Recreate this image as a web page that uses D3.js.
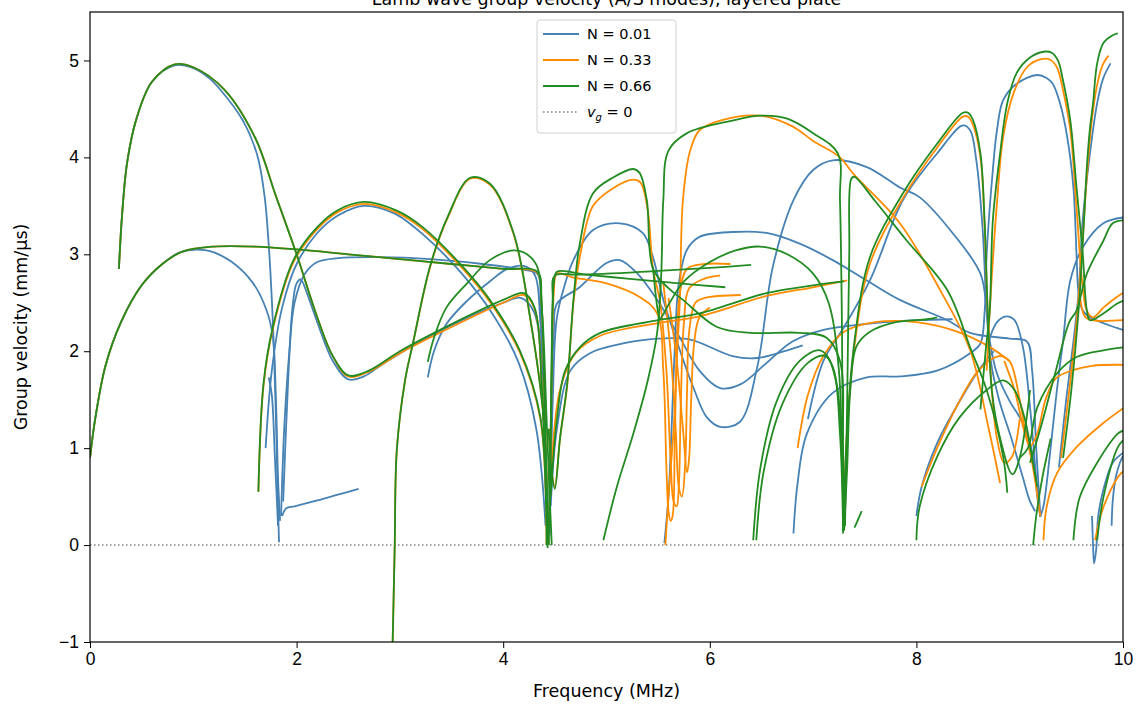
<!DOCTYPE html>
<html>
<head>
<script src="https://d3js.org/d3.v7.min.js"></script>
<style>
  body { margin: 0; background: #fff; }
  svg { font-family: "DejaVu Sans", sans-serif; }
  .tick text { font-size: 17.5px; fill: #000; }
  .tick line { stroke: #000; }
</style>
</head>
<body>
<svg id="chart" width="1139" height="708"></svg>
<script>
// tick values
var freqTicks = [0, 2, 4, 6, 8, 10];
var velTicks = [-1, 0, 1, 2, 3, 4, 5];
var seriesLabels = ["N = 0.01", "N = 0.33", "N = 0.66"];
var seriesColors = ["#4682b4", "#ff8c00", "#228b22"];

// dispersion branches, [frequency MHz, group velocity mm/us]
var blueModes = [
  [[0.28,2.85],[0.31,3.4],[0.36,3.95],[0.45,4.4],[0.6,4.78],[0.82,4.95],[1.0,4.92],[1.15,4.82],[1.26,4.7],[1.48,4.38],[1.62,4.02],[1.69,3.6],[1.73,3.1],[1.77,2.3],[1.8,1.3],[1.82,0.4],[1.83,0.03]],
  [[0,0.9],[0.05,1.3],[0.15,1.85],[0.3,2.3],[0.5,2.68],[0.7,2.9],[0.87,3.02],[1.13,3.04],[1.36,2.93],[1.58,2.7],[1.71,2.42],[1.77,2.15],[1.8,1.5],[1.82,0.7],[1.84,0.25]],
  [[1.73,1.73],[1.76,1.55],[1.79,0.9],[1.82,0.2]],
  [[1.85,0.3],[1.88,1.2],[1.93,2.0],[1.98,2.5],[2.08,2.8],[2.2,2.92],[2.4,2.96],[2.8,2.97],[3.3,2.95],[3.8,2.9],[4.2,2.84],[4.33,2.8],[4.36,2.4],[4.4,1.0],[4.43,0.05]],
  [[1.87,0.45],[1.91,1.5],[1.96,2.45],[2.0,2.7],[2.04,2.74],[2.1,2.6],[2.2,2.3],[2.35,1.9],[2.5,1.71],[2.65,1.74],[2.85,1.88],[3.2,2.1],[3.6,2.32],[4.0,2.5],[4.17,2.55],[4.3,2.4],[4.38,1.5],[4.42,0.2]],
  [[1.86,0.3],[1.9,0.38],[1.98,0.4],[2.2,0.46],[2.4,0.52],[2.6,0.58]],
  [[1.7,1.0],[1.76,1.8],[1.86,2.45],[2.0,2.9],[2.2,3.22],[2.4,3.4],[2.65,3.5],[2.95,3.42],[3.25,3.18],[3.6,2.8],[3.9,2.38],[4.15,1.88],[4.32,1.2],[4.41,0.2]],
  [[3.27,1.73],[3.33,2.0],[3.45,2.28],[3.65,2.52],[3.87,2.72],[4.04,2.85],[4.2,2.88],[4.3,2.8],[4.36,2.3],[4.4,1.0],[4.43,0.1]],
  [[4.44,0.05],[4.46,1.2],[4.49,2.2],[4.52,2.49],[4.74,2.66],[5.0,2.91],[5.13,2.94],[5.3,2.8],[5.49,2.53],[5.71,2.14],[5.9,1.8],[6.1,1.62],[6.3,1.66],[6.55,1.88],[6.8,2.1],[7.1,2.22],[7.5,2.28],[8.0,2.32],[8.35,2.33]],
  [[4.45,0.1],[4.48,1.5],[4.52,2.35],[4.6,2.7],[4.68,2.94],[4.87,3.25],[5.13,3.32],[5.35,3.22],[5.45,2.97],[5.55,2.53],[5.71,2.01],[5.85,1.6],[5.97,1.32],[6.1,1.22],[6.29,1.27],[6.46,1.84],[6.61,2.87],[6.81,3.56],[7.0,3.87],[7.19,3.97],[7.52,3.9],[7.84,3.69],[8.03,3.59],[8.35,3.22],[8.62,2.8],[8.68,2.42],[8.71,2.11],[8.78,1.77],[8.9,1.49],[9.03,1.26],[9.13,0.91],[9.17,0.5],[9.2,0.29]],
  [[5.56,0.02],[5.6,0.5],[5.63,1.2],[5.66,2.0],[5.7,2.7],[5.78,3.05],[5.9,3.18],[6.22,3.23],[6.55,3.22],[6.87,3.11],[7.19,2.94],[7.52,2.73],[7.84,2.53],[8.3,2.32],[8.52,2.19],[8.9,2.13],[9.07,2.1],[9.12,1.8],[9.16,1.0],[9.2,0.3]],
  [[6.81,0.12],[6.85,0.64],[6.94,1.15],[7.19,1.57],[7.52,1.73],[7.84,1.74],[8.2,1.8],[8.52,1.98],[8.62,2.08],[8.66,2.4],[8.68,3.0],[8.74,3.87],[8.78,4.28],[8.84,4.59],[8.97,4.76],[9.17,4.85],[9.26,4.82],[9.32,4.76],[9.39,4.56],[9.46,4.21],[9.52,3.69],[9.55,3.0],[9.57,2.6],[9.61,2.42],[9.68,2.35],[9.94,2.24],[10,2.22]],
  [[6.95,1.3],[7.1,1.9],[7.3,2.25],[7.55,2.73],[7.87,3.56],[8.2,4.04],[8.45,4.33],[8.52,4.28],[8.58,3.97],[8.64,3.28],[8.68,2.42],[8.72,1.9],[8.8,1.5],[8.92,1.1],[9.03,0.7],[9.1,0.45],[9.15,0.35]],
  [[8.7,2.1],[8.78,2.3],[8.87,2.36],[8.95,2.32],[9.03,2.05],[9.1,1.42],[9.17,0.57],[9.2,0.29]],
  [[9.2,0.3],[9.23,0.4],[9.29,0.91],[9.36,1.6],[9.42,2.11],[9.49,2.73],[9.61,3.07],[9.81,3.32],[10,3.38]],
  [[9.38,0.8],[9.45,1.5],[9.52,2.1],[9.57,2.6],[9.61,3.35],[9.68,4.04],[9.75,4.56],[9.81,4.82],[9.88,4.97]],
  [[9.7,0.3],[9.71,0.0],[9.72,-0.19],[9.74,-0.05],[9.76,0.3],[9.81,0.57],[9.9,0.85],[10,0.95]],
  [[9.89,0.2],[9.9,0.45],[9.93,0.7],[9.97,0.85],[10,0.92]],
  [[8.0,0.3],[8.05,0.6],[8.2,1.05],[8.4,1.45],[8.6,1.8],[8.75,2.0]],
  [[4.46,0.4],[4.52,1.2],[4.65,1.8],[4.84,1.98],[5.16,2.08],[5.49,2.13],[5.81,2.12],[6.22,1.95],[6.46,1.93],[6.75,2.01],[6.9,2.06]]
];

var orangeModes = [
  [[0.28,2.85],[0.31,3.4],[0.36,3.95],[0.45,4.4],[0.6,4.78],[0.82,4.96],[1.0,4.93],[1.3,4.7],[1.6,4.2],[1.8,3.6],[2.0,3.0],[2.2,2.35],[2.35,1.95],[2.5,1.74],[2.7,1.79],[3.0,1.98],[3.5,2.25],[4.0,2.5],[4.2,2.58],[4.3,2.45],[4.38,1.5],[4.43,0.1]],
  [[0,0.9],[0.05,1.3],[0.15,1.85],[0.3,2.3],[0.5,2.68],[0.7,2.9],[0.9,3.03],[1.2,3.08],[1.6,3.08],[2.0,3.05],[2.5,3.0],[3.0,2.95],[3.5,2.9],[4.0,2.85],[4.33,2.81],[4.37,2.5],[4.4,1.5],[4.43,0.3],[4.44,0.0]],
  [[1.63,0.55],[1.68,1.65],[1.77,2.23],[1.97,2.92],[2.2,3.26],[2.39,3.43],[2.65,3.52],[2.97,3.43],[3.22,3.26],[3.61,2.85],[3.87,2.51],[4.16,1.99],[4.36,1.3],[4.42,0.0]],
  [[2.93,-1],[2.94,-0.5],[2.95,0],[2.97,0.98],[3.05,1.7],[3.13,2.1],[3.29,2.86],[3.46,3.37],[3.68,3.78],[3.87,3.72],[4.1,3.21],[4.26,2.35],[4.39,1.32],[4.43,0.0]],
  [[4.45,0.3],[4.47,1.8],[4.49,2.6],[4.52,2.8],[4.68,2.76],[5.0,2.7],[5.32,2.56],[5.49,2.39],[5.55,1.8],[5.58,0.8],[5.6,0.35],[5.62,0.25],[5.64,0.3],[5.66,1.0],[5.68,2.0],[5.71,2.6],[5.78,2.85],[5.95,2.9],[6.2,2.9]],
  [[4.44,1.2],[4.47,0.75],[4.5,0.6],[4.55,1.1],[4.62,1.65],[4.68,2.5],[4.75,3.02],[4.87,3.5],[5.06,3.68],[5.26,3.77],[5.33,3.74],[5.4,3.45],[5.45,2.85],[5.52,2.5],[5.58,1.8],[5.62,0.9],[5.65,0.45],[5.68,0.4],[5.7,0.6],[5.72,1.5],[5.75,2.3],[5.8,2.65],[5.95,2.75],[6.1,2.78]],
  [[5.55,2.7],[5.62,2.0],[5.67,1.2],[5.7,0.6],[5.73,0.5],[5.76,0.8],[5.78,1.6],[5.8,2.2],[5.86,2.5],[5.95,2.55],[6.3,2.58]],
  [[5.6,2.55],[5.68,1.9],[5.74,1.2],[5.78,0.75],[5.8,0.9],[5.82,1.5],[5.85,2.1],[5.9,2.35],[6.0,2.45]],
  [[5.57,0.0],[5.6,0.5],[5.65,1.2],[5.68,1.9],[5.71,2.52],[5.74,3.56],[5.81,4.07],[5.9,4.28],[6.1,4.38],[6.49,4.43],[6.8,4.32],[7.0,4.17],[7.26,4.0],[7.39,3.83],[7.84,3.32],[8.23,2.63],[8.52,2.01],[8.7,1.2],[8.81,0.64]],
  [[4.47,0.8],[4.55,1.6],[4.7,1.98],[4.94,2.16],[5.5,2.29],[5.9,2.36],[6.55,2.57],[7.0,2.66],[7.33,2.73]],
  [[6.85,1.0],[6.95,1.55],[7.1,1.95],[7.3,2.2],[7.6,2.3],[8.0,2.3],[8.4,2.2],[8.7,2.05],[8.9,1.9]],
  [[7.3,0.3],[7.33,1.2],[7.4,2.05],[7.55,2.9],[7.87,3.58],[8.2,4.1],[8.45,4.42],[8.5,4.42],[8.55,4.33],[8.62,4.0],[8.66,3.3],[8.69,2.4],[8.73,1.6],[8.78,1.1],[8.85,0.85],[8.92,0.9],[9.0,1.3]],
  [[8.68,1.8],[8.72,2.6],[8.78,3.53],[8.84,4.21],[8.94,4.66],[9.07,4.93],[9.2,5.01],[9.29,5.01],[9.36,4.93],[9.42,4.69],[9.49,4.28],[9.55,3.48],[9.61,2.66],[9.65,2.42],[9.71,2.35],[9.81,2.45],[9.94,2.56],[10,2.6]],
  [[9.4,0.9],[9.48,1.6],[9.55,2.3],[9.6,3.0],[9.65,3.8],[9.7,4.4],[9.76,4.8],[9.81,4.97],[9.86,5.05]],
  [[8.85,1.9],[8.95,1.6],[9.05,1.15],[9.1,1.02],[9.17,1.15],[9.25,1.5],[9.35,1.72],[9.5,1.8],[9.7,1.85],[10,1.86]],
  [[9.23,0.05],[9.26,0.39],[9.36,0.74],[9.55,1.01],[9.81,1.26],[10,1.41]],
  [[9.73,0.05],[9.76,0.2],[9.81,0.39],[9.95,0.7],[10,0.76]],
  [[9.58,2.6],[9.63,2.36],[9.7,2.32],[10,2.32]],
  [[8.05,0.6],[8.2,1.0],[8.4,1.45],[8.6,1.8],[8.8,1.95],[8.9,1.9],[9.0,1.5],[9.05,1.2],[9.12,0.85],[9.2,0.3]]
];

var greenModes = [
  [[0.28,2.85],[0.31,3.4],[0.36,3.95],[0.45,4.4],[0.6,4.78],[0.82,4.96],[1.0,4.93],[1.3,4.7],[1.6,4.2],[1.8,3.6],[2.0,3.0],[2.2,2.35],[2.35,1.95],[2.5,1.75],[2.7,1.8],[3.0,2.0],[3.5,2.28],[4.0,2.53],[4.2,2.6],[4.3,2.46],[4.38,1.5],[4.43,0.1]],
  [[0,0.9],[0.05,1.3],[0.15,1.85],[0.3,2.3],[0.5,2.68],[0.7,2.9],[0.9,3.03],[1.2,3.08],[1.6,3.08],[2.0,3.05],[2.5,3.0],[3.0,2.95],[3.5,2.9],[4.0,2.85],[4.33,2.82],[4.37,2.5],[4.4,1.5],[4.43,0.3],[4.44,0.0]],
  [[1.63,0.55],[1.68,1.67],[1.77,2.25],[1.97,2.94],[2.2,3.28],[2.39,3.45],[2.65,3.54],[2.97,3.45],[3.22,3.28],[3.61,2.87],[3.87,2.53],[4.16,2.01],[4.36,1.32],[4.42,0.0]],
  [[2.93,-1],[2.94,-0.5],[2.95,0],[2.97,0.98],[3.05,1.7],[3.13,2.1],[3.29,2.87],[3.46,3.38],[3.68,3.79],[3.87,3.73],[4.1,3.22],[4.26,2.35],[4.39,1.32],[4.43,-0.03]],
  [[3.27,1.89],[3.33,2.14],[3.45,2.45],[3.65,2.7],[3.87,2.94],[4.1,3.04],[4.23,3.0],[4.33,2.87],[4.38,2.35],[4.42,1.3],[4.45,0.5],[4.47,0.0]],
  [[4.44,0.0],[4.46,1.2],[4.48,2.5],[4.5,2.78],[4.7,2.79],[5.0,2.8],[5.5,2.83],[6.0,2.86],[6.4,2.89]],
  [[4.45,0.2],[4.47,1.8],[4.49,2.7],[4.52,2.82],[4.8,2.79],[5.2,2.75],[5.6,2.71],[6.15,2.66]],
  [[4.44,1.2],[4.47,0.75],[4.5,0.58],[4.55,1.1],[4.62,1.67],[4.68,2.53],[4.74,3.1],[4.87,3.63],[5.06,3.79],[5.26,3.88],[5.32,3.84],[5.39,3.56],[5.45,2.85],[5.6,2.65],[5.74,2.53],[6.07,2.25],[6.39,2.19],[6.87,2.19],[7.13,2.14],[7.26,1.9],[7.29,1.0],[7.31,0.2]],
  [[4.97,0.05],[5.1,0.6],[5.26,1.15],[5.4,1.7],[5.49,2.19],[5.53,2.8],[5.55,3.56],[5.6,4.07],[5.78,4.25],[6.22,4.38],[6.49,4.43],[6.75,4.4],[7.0,4.25],[7.24,4.04],[7.26,3.56],[7.28,2.19],[7.29,0.12]],
  [[7.31,0.25],[7.33,1.5],[7.35,3.0],[7.37,3.78],[7.4,3.8],[7.6,3.55],[7.9,3.15],[8.3,2.63],[8.52,2.04],[8.68,1.6],[8.84,0.91],[8.88,0.54]],
  [[4.46,0.5],[4.52,1.3],[4.6,1.8],[4.75,2.05],[4.94,2.19],[5.5,2.32],[5.9,2.39],[6.55,2.6],[7.0,2.68],[7.3,2.72]],
  [[6.42,0.05],[6.49,0.8],[6.65,1.49],[6.87,1.9],[7.07,2.01],[7.19,1.84],[7.26,1.15],[7.29,0.15]],
  [[6.45,0.05],[6.52,0.75],[6.7,1.45],[6.95,1.88],[7.12,1.95],[7.22,1.7],[7.28,1.0],[7.31,0.2]],
  [[7.3,0.15],[7.33,0.8],[7.36,1.6],[7.42,2.05],[7.55,2.2],[7.8,2.3],[8.1,2.33],[8.2,2.35]],
  [[7.4,0.18],[7.43,0.25],[7.47,0.35]],
  [[5.45,2.87],[5.5,2.4],[5.52,2.34],[5.6,2.48],[5.75,2.72],[6.0,2.92],[6.25,3.04],[6.49,3.08],[6.75,3.0],[7.0,2.8],[7.15,2.5],[7.25,1.8],[7.28,0.8],[7.3,0.15]],
  [[7.3,0.3],[7.33,1.2],[7.4,2.1],[7.55,2.97],[7.87,3.63],[8.2,4.14],[8.45,4.46],[8.5,4.46],[8.55,4.38],[8.62,4.04],[8.66,3.35],[8.69,2.42],[8.73,1.6],[8.8,1.15],[8.93,0.73],[9.0,0.9],[9.1,1.6]],
  [[8.62,1.4],[8.67,2.0],[8.71,2.42],[8.74,3.35],[8.81,4.04],[8.88,4.56],[8.97,4.87],[9.1,5.03],[9.23,5.09],[9.31,5.08],[9.37,5.0],[9.42,4.79],[9.49,4.38],[9.55,3.69],[9.61,3.01],[9.65,2.42],[9.68,2.32],[9.81,2.39],[9.94,2.49],[10,2.52]],
  [[9.42,0.9],[9.5,1.6],[9.57,2.42],[9.62,3.3],[9.65,3.9],[9.68,4.3],[9.71,4.56],[9.75,4.97],[9.81,5.18],[9.9,5.26],[9.95,5.28]],
  [[9.1,0.85],[9.2,1.2],[9.35,1.8],[9.48,2.3],[9.55,2.42],[9.65,2.8],[9.81,3.14],[9.9,3.32],[10,3.35]],
  [[8.0,0.05],[8.03,0.39],[8.2,0.91],[8.42,1.32],[8.68,1.6],[8.84,1.7],[8.95,1.6],[9.05,1.3],[9.12,0.9],[9.17,0.6]],
  [[9.0,0.9],[9.08,1.0],[9.17,1.42],[9.36,1.77],[9.55,1.94],[9.81,2.01],[10,2.04]],
  [[9.52,0.05],[9.58,0.49],[9.75,0.85],[9.95,1.15],[10,1.18]],
  [[9.75,0.05],[9.81,0.49],[9.95,1.01],[10,1.08]],
  [[9.13,0.0],[9.16,0.3],[9.22,0.7],[9.3,1.1]]
];

var allModes = [blueModes, orangeModes, greenModes];

var svg = d3.select("#chart");
var margin = {left: 90, right: 16, top: 12, bottom: 66};
var W = 1139, H = 708;

var x = d3.scaleLinear().domain([0, 10]).range([margin.left, W - margin.right]);
var y = d3.scaleLinear().domain([-1, 5.5]).range([H - margin.bottom, margin.top]);

svg.append("clipPath").attr("id", "plotclip")
  .append("rect").attr("x", margin.left).attr("y", margin.top)
  .attr("width", W - margin.left - margin.right).attr("height", H - margin.top - margin.bottom);

// title, cut by the top edge as in the source image
svg.append("text").attr("x", (margin.left + W - margin.right) / 2).attr("y", 5)
  .attr("text-anchor", "middle").style("font-size", "17.5px")
  .text("Lamb wave group velocity (A/S modes), layered plate");

var plot = svg.append("g").attr("clip-path", "url(#plotclip)");

// zero group velocity reference
plot.append("line")
  .attr("x1", x(0)).attr("x2", x(10)).attr("y1", y(0)).attr("y2", y(0))
  .attr("stroke", "#808080").attr("stroke-width", 1.5).attr("stroke-dasharray", "1.5,2.5");

var line = d3.line()
  .x(function(d){ return x(d[0]); })
  .y(function(d){ return y(d[1]); })
  .curve(d3.curveCatmullRom.alpha(0.5));

allModes.forEach(function(modes, i){
  plot.append("g").selectAll("path").data(modes).enter().append("path")
    .attr("d", line)
    .attr("fill", "none")
    .attr("stroke", seriesColors[i])
    .attr("stroke-width", 1.8)
    .attr("stroke-linejoin", "round");
});

// axes
svg.append("g").attr("transform", "translate(0," + (H - margin.bottom) + ")")
  .call(d3.axisBottom(x).tickValues(freqTicks).tickFormat(d3.format("d")).tickSizeOuter(0).tickSize(6).tickPadding(5));
svg.append("g").attr("transform", "translate(" + margin.left + ",0)")
  .call(d3.axisLeft(y).tickValues(velTicks).tickFormat(function(d){ return d < 0 ? "\u2212" + Math.abs(d) : d; }).tickSizeOuter(0).tickSize(6).tickPadding(5));

svg.selectAll(".domain").remove();

// frame
svg.append("rect").attr("x", margin.left).attr("y", margin.top)
  .attr("width", W - margin.left - margin.right).attr("height", H - margin.top - margin.bottom)
  .attr("fill", "none").attr("stroke", "#000").attr("stroke-width", 1.2);

svg.append("text").attr("x", (margin.left + W - margin.right) / 2).attr("y", 697)
  .attr("text-anchor", "middle").style("font-size", "17.5px").text("Frequency (MHz)");
svg.append("text").attr("transform", "translate(27," + ((margin.top + H - margin.bottom) / 2) + ") rotate(-90)")
  .attr("text-anchor", "middle").style("font-size", "17.5px").text("Group velocity (mm/\u03bcs)");

// legend
var lg = svg.append("g").attr("transform", "translate(537,20)");
lg.append("rect").attr("width", 139).attr("height", 113).attr("rx", 3)
  .attr("fill", "#fff").attr("fill-opacity", 0.8).attr("stroke", "#d0d0d0");
seriesLabels.forEach(function(lab, i){
  var ry = 14 + i * 26;
  lg.append("line").attr("x1", 6).attr("x2", 42).attr("y1", ry).attr("y2", ry)
    .attr("stroke", seriesColors[i]).attr("stroke-width", 2.2);
  lg.append("text").attr("x", 50).attr("y", ry + 5).style("font-size", "14.5px").text(lab);
});
var ry = 14 + 3 * 26;
lg.append("line").attr("x1", 6).attr("x2", 42).attr("y1", ry).attr("y2", ry)
  .attr("stroke", "#808080").attr("stroke-width", 1.5).attr("stroke-dasharray", "1.5,2.5");
var vt = lg.append("text").attr("x", 50).attr("y", ry + 5).style("font-size", "14.5px");
vt.append("tspan").style("font-style", "italic").text("v");
vt.append("tspan").attr("dy", 4).style("font-size", "10px").style("font-style", "italic").text("g");
vt.append("tspan").attr("dy", -4).text(" = 0");
</script>
</body>
</html>
